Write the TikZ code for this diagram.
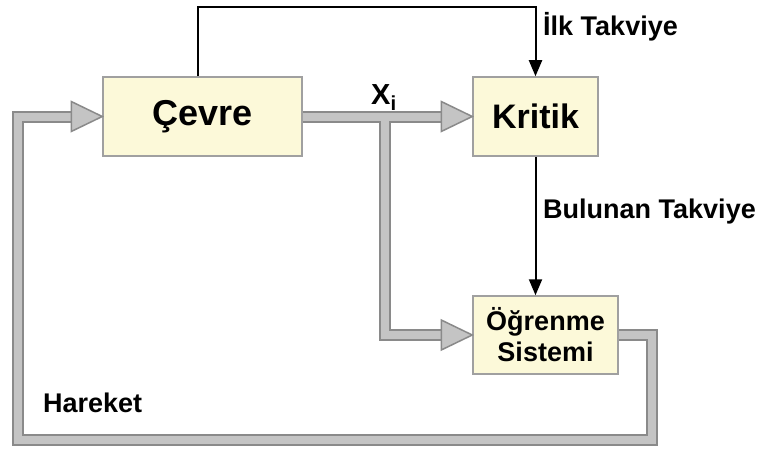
\documentclass[tikz,border=0pt]{standalone}
\usepackage{fontspec}
\setmainfont{Liberation Sans}
\usetikzlibrary{arrows.meta,calc}
\definecolor{pipedark}{HTML}{8A8A8A}
\definecolor{pipelight}{HTML}{C4C4C4}
\definecolor{boxfill}{HTML}{FCF9D9}
\definecolor{boxline}{HTML}{A0A0A0}
\tikzset{
  box/.style={draw=boxline, fill=boxfill, line width=1.5pt, inner sep=0pt, align=center},
  pipeout/.style={draw=pipedark, line width=12pt, line join=miter},
  pipein/.style={draw=pipelight, line width=8pt, line join=miter},
  pipehead/.style={fill=pipelight, draw=pipedark, line width=1.5pt, line join=miter},
  thinarrow/.style={draw=black, line width=2pt, -{Triangle[width=13pt,length=16pt]}},
  lbl/.style={font=\fontsize{27}{31}\selectfont\bfseries, inner sep=0pt, anchor=base west}
}
\begin{document}
\begin{tikzpicture}[x=1pt,y=-1pt]
\useasboundingbox[fill=white] (0,0) rectangle (763,452);
% boxes
\node[box, minimum width=199pt, minimum height=79pt, font=\fontsize{36}{40}\selectfont\bfseries] (cevre) at (202.5,116.5) {Çevre};
\node[box, minimum width=125pt, minimum height=79pt, font=\fontsize{34}{40}\selectfont\bfseries] (kritik) at (535.5,116.5) {Kritik};
\node[box, minimum width=145pt, minimum height=78pt, font=\fontsize{27}{31}\selectfont\bfseries] (ogr) at (545.5,335) {Öğrenme\\Sistemi};
% coordinates
\coordinate (topy) at (0,7);
\coordinate (br) at (652,440);
\coordinate (bl) at (18,440);
\coordinate (bx) at (385,0);
\coordinate (h1) at ($(kritik.west)+(-31,0)$);
\coordinate (h2) at ($(ogr.west)+(-31,0)$);
\coordinate (h3) at ($(cevre.west)+(-31,0)$);
% gray pipes: outer layer
\draw[pipeout] (cevre.east) -- (h1);
\draw[pipeout] (bx |- cevre.east) |- (h2);
\draw[pipeout] (ogr.east) -| (br) -- (bl) |- (h3);
% inner layer
\draw[pipein] (cevre.east) -- (h1);
\draw[pipein] (bx |- cevre.east) |- (h2);
\draw[pipein] (ogr.east) -| (br) -- (bl) |- (h3);
% heads
\draw[pipehead] (kritik.west) -- ++(-31,15) -- ++(0,-30) -- cycle;
\draw[pipehead] (ogr.west) -- ++(-31,15) -- ++(0,-30) -- cycle;
\draw[pipehead] (cevre.west) -- ++(-31,15) -- ++(0,-30) -- cycle;
% thin arrows
\draw[thinarrow] ([xshift=-5pt]cevre.north) |- (topy -| kritik.north) -- (kritik.north);
\draw[thinarrow] (kritik.south) -- (kritik.south |- ogr.north);
% labels
\node[lbl] (ilk) at (543,36) {İlk Takviye};
\node[lbl] (bul) at (543,218) {Bulunan Takviye};
\node[lbl] (har) at (43,412) {Hareket};
\node[lbl, font=\fontsize{29}{32}\selectfont\bfseries] (xi) at (371,104) {X\textsubscript{i}};
\end{tikzpicture}
\end{document}
